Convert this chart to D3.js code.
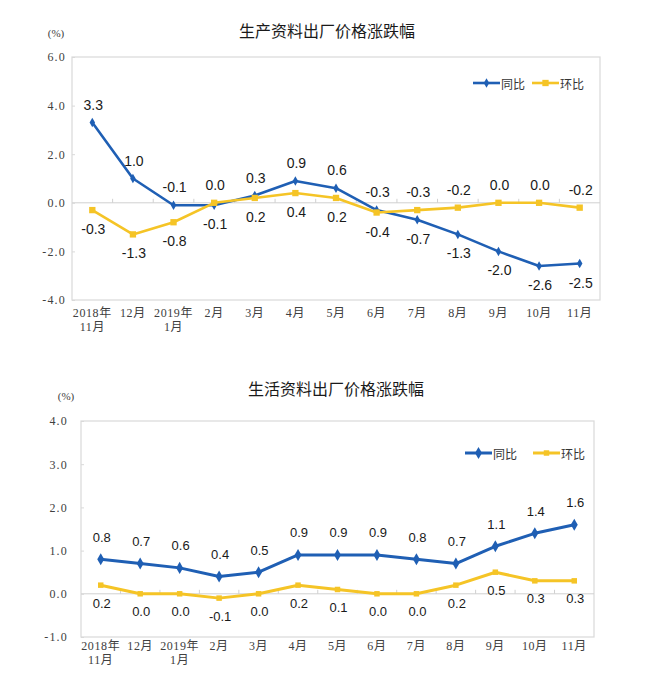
<!DOCTYPE html>
<html>
<head>
<meta charset="utf-8">
<script src="https://cdn.jsdelivr.net/npm/d3@7"></script>
<style>
  body { margin: 0; background: #fff; }
  svg { display: block; }
</style>
</head>
<body>
<div id="wrapper"></div>
<script>
// x categories (two-line labels)
const monthLabels = [
    ["2018年", "11月"], ["12月"], ["2019年", "1月"], ["2月"], ["3月"], ["4月"],
    ["5月"], ["6月"], ["7月"], ["8月"], ["9月"], ["10月"], ["11月"]
];
const seriesNames = ["同比", "环比"];

// 生产资料
const prodTitle = "生产资料出厂价格涨跌幅";
const prodYoY = [3.3, 1.0, -0.1, -0.1, 0.3, 0.9, 0.6, -0.3, -0.7, -1.3, -2.0, -2.6, -2.5];
const prodMoM = [-0.3, -1.3, -0.8, 0.0, 0.2, 0.4, 0.2, -0.4, -0.3, -0.2, 0.0, 0.0, -0.2];
const prodTicks = [6, 4, 2, 0, -2, -4];

// 生活资料
const consTitle = "生活资料出厂价格涨跌幅";
const consYoY = [0.8, 0.7, 0.6, 0.4, 0.5, 0.9, 0.9, 0.9, 0.8, 0.7, 1.1, 1.4, 1.6];
const consMoM = [0.2, 0.0, 0.0, -0.1, 0.0, 0.2, 0.1, 0.0, 0.0, 0.2, 0.5, 0.3, 0.3];
const consTicks = [4, 3, 2, 1, 0, -1];

const BLUE = "#1f5fb4";
const YELLOW = "#f5c426";
const CJK = "'Noto Sans CJK SC', sans-serif";
const SERIF = "'Liberation Serif', 'Noto Sans CJK SC', serif";
const SANS = "'Liberation Sans', Arial, sans-serif";

const fmt = d3.formatLocale({decimal: ".", thousands: ",", grouping: [3], currency: ["", ""], minus: "-"}).format(".1f");

const svg = d3.select("#wrapper").append("svg")
    .attr("width", 661)
    .attr("height", 690);
svg.append("rect").attr("width", 661).attr("height", 690).attr("fill", "#fff");

function drawChart(cfg) {
    const g = svg.append("g");

    const x = d3.scaleBand()
        .domain(d3.range(monthLabels.length))
        .range([cfg.left, cfg.right]);
    const y = d3.scaleLinear()
        .domain([d3.min(cfg.ticks), d3.max(cfg.ticks)])
        .range([cfg.bottom, cfg.top]);
    const cx = i => x(i) + x.bandwidth() / 2;

    // title + unit
    g.append("text")
        .attr("x", cfg.titleX).attr("y", cfg.titleY)
        .attr("text-anchor", "middle").attr("dominant-baseline", "central")
        .style("font-family", CJK).style("font-size", "16px").style("fill", "#1a1a1a")
        .text(cfg.title);
    g.append("text")
        .attr("x", cfg.unitX).attr("y", cfg.unitY)
        .attr("text-anchor", "middle").attr("dominant-baseline", "central")
        .style("font-family", SERIF).style("font-size", "11px").style("fill", "#404040")
        .text("(%)");

    // frame
    g.append("rect")
        .attr("x", cfg.left).attr("y", cfg.top)
        .attr("width", cfg.right - cfg.left).attr("height", cfg.bottom - cfg.top)
        .attr("fill", "none").attr("stroke", "#d9d9d9").attr("stroke-width", 1.2);

    // zero line with small ticks at category boundaries
    g.append("line")
        .attr("x1", cfg.left).attr("x2", cfg.right)
        .attr("y1", y(0)).attr("y2", y(0))
        .attr("stroke", "#d0d0d0").attr("stroke-width", 1);
    g.selectAll(".zt").data(d3.range(1, monthLabels.length)).join("line")
        .attr("x1", d => x(d)).attr("x2", d => x(d))
        .attr("y1", y(0)).attr("y2", y(0) - 4)
        .attr("stroke", "#d0d0d0");

    // y axis
    const yAxis = d3.axisLeft(y).tickValues(cfg.ticks).tickFormat(fmt)
        .tickSize(-3).tickPadding(cfg.yPad);
    const ya = g.append("g").attr("transform", `translate(${cfg.left},0)`).call(yAxis);
    ya.select(".domain").remove();
    ya.selectAll("line").attr("stroke", "#d9d9d9");
    ya.selectAll("text")
        .style("font-family", SERIF).style("font-size", "12px")
        .style("letter-spacing", "1.2px").style("fill", "#404040");

    // x axis labels
    const xAxis = d3.axisBottom(x).tickSize(0).tickFormat("");
    const xa = g.append("g").attr("transform", `translate(0,${cfg.bottom})`).call(xAxis);
    xa.select(".domain").remove();
    xa.selectAll(".tick").each(function(d) {
        const t = d3.select(this).append("text")
            .attr("text-anchor", "middle")
            .style("font-family", SERIF).style("font-size", "12px")
            .style("letter-spacing", "0.6px").style("fill", "#404040");
        monthLabels[d].forEach((s, k) => {
            t.append("tspan").attr("x", 0).attr("y", cfg.xLab1 + k * 14)
                .attr("dominant-baseline", "central").text(s);
        });
    });

    const series = [
        {values: cfg.yoy, color: BLUE, sym: d3.symbolDiamond, size: cfg.diamond},
        {values: cfg.mom, color: YELLOW, sym: d3.symbolSquare, size: cfg.square}
    ];

    const line = d3.line().x((d, i) => cx(i)).y(d => y(d));

    series.forEach(s => {
        g.append("path")
            .attr("d", line(s.values))
            .attr("fill", "none").attr("stroke", s.color)
            .attr("stroke-width", cfg.lw).attr("stroke-linejoin", "round");
        g.selectAll(null).data(s.values).join("path")
            .attr("transform", (d, i) => `translate(${cx(i)},${y(d)})`)
            .attr("d", d3.symbol(s.sym, s.size))
            .attr("fill", s.color);
    });

    // data labels: higher series above, lower series below
    series.forEach((s, si) => {
        const other = series[1 - si].values;
        g.selectAll(null).data(s.values).join("text")
            .attr("x", (d, i) => cx(i) + 1)
            .attr("y", (d, i) => {
                const above = si === 0 ? d >= other[i] : d > other[i];
                return y(d) + (above ? cfg.above : cfg.below);
            })
            .attr("text-anchor", "middle").attr("dominant-baseline", "central")
            .style("font-family", SANS).style("font-size", cfg.labelSize + "px")
            .style("fill", "#1a1a1a")
            .text(d => fmt(d));
    });

    // legend
    let lx = cfg.legX;
    series.forEach((s, si) => {
        g.append("line")
            .attr("x1", lx).attr("x2", lx + 27)
            .attr("y1", cfg.legY).attr("y2", cfg.legY)
            .attr("stroke", s.color).attr("stroke-width", cfg.lw);
        g.append("path")
            .attr("transform", `translate(${lx + 13.5},${cfg.legY})`)
            .attr("d", d3.symbol(s.sym, s.size))
            .attr("fill", s.color);
        g.append("text")
            .attr("x", lx + 28).attr("y", cfg.legY)
            .attr("dominant-baseline", "central")
            .style("font-family", CJK).style("font-size", "12px").style("fill", "#333")
            .text(seriesNames[si]);
        lx += cfg.legStep;
    });
}

drawChart({
    title: prodTitle, yoy: prodYoY, mom: prodMoM, ticks: prodTicks,
    left: 72, right: 600, top: 57, bottom: 300,
    titleX: 327, titleY: 30, unitX: 56, unitY: 33,
    yPad: 6, xLab1: 13, lw: 2.6, diamond: 26, square: 40,
    labelSize: 14, above: -18, below: 19,
    legX: 473, legY: 83, legStep: 59
});

drawChart({
    title: consTitle, yoy: consYoY, mom: consMoM, ticks: consTicks,
    left: 81, right: 594, top: 421, bottom: 637,
    titleX: 336, titleY: 388, unitX: 66, unitY: 396,
    yPad: 13, xLab1: 9, lw: 3, diamond: 42, square: 30,
    labelSize: 13, above: -22, below: 18,
    legX: 465, legY: 453, legStep: 68
});
</script>
</body>
</html>
